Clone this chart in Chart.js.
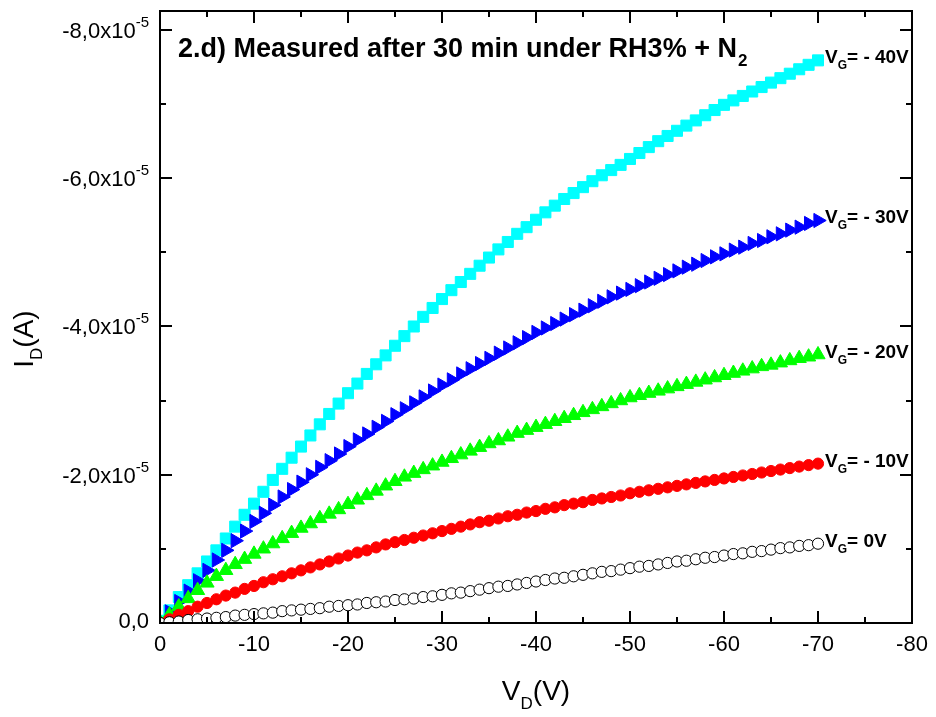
<!DOCTYPE html>
<html><head><meta charset="utf-8">
<script src="https://cdn.jsdelivr.net/npm/chart.js@4.4.0/dist/chart.umd.min.js"></script>
<style>html,body{margin:0;padding:0;background:#fff;}#c{display:block;}</style>
</head><body>
<canvas id="c" width="936" height="717"></canvas>
<script>
// ---- data ----
const drainVoltage = [0,-1,-2,-3,-4,-5,-6,-7,-8,-9,-10,-11,-12,-13,-14,-15,-16,-17,-18,-19,-20,-21,-22,-23,-24,-25,-26,-27,-28,-29,-30,-31,-32,-33,-34,-35,-36,-37,-38,-39,-40,-41,-42,-43,-44,-45,-46,-47,-48,-49,-50,-51,-52,-53,-54,-55,-56,-57,-58,-59,-60,-61,-62,-63,-64,-65,-66,-67,-68,-69,-70];
// drain current, in units of 1e-5 A
const iD_VG0 = [0,-0.01,-0.02,-0.04,-0.05,-0.06,-0.07,-0.08,-0.10,-0.11,-0.12,-0.13,-0.14,-0.16,-0.17,-0.18,-0.19,-0.20,-0.22,-0.23,-0.24,-0.25,-0.27,-0.28,-0.29,-0.31,-0.32,-0.33,-0.35,-0.36,-0.38,-0.40,-0.41,-0.43,-0.45,-0.47,-0.49,-0.50,-0.52,-0.54,-0.56,-0.58,-0.60,-0.61,-0.63,-0.65,-0.67,-0.69,-0.70,-0.72,-0.74,-0.76,-0.77,-0.79,-0.81,-0.83,-0.84,-0.86,-0.88,-0.89,-0.91,-0.93,-0.94,-0.96,-0.97,-0.99,-1.01,-1.02,-1.04,-1.05,-1.07];
const iD_VG10 = [0,-0.05,-0.11,-0.16,-0.22,-0.27,-0.32,-0.37,-0.41,-0.46,-0.50,-0.55,-0.59,-0.63,-0.67,-0.71,-0.75,-0.79,-0.83,-0.87,-0.91,-0.95,-0.98,-1.02,-1.06,-1.09,-1.12,-1.15,-1.18,-1.21,-1.24,-1.27,-1.30,-1.33,-1.36,-1.38,-1.41,-1.44,-1.46,-1.49,-1.51,-1.54,-1.56,-1.59,-1.61,-1.63,-1.66,-1.68,-1.70,-1.72,-1.75,-1.77,-1.79,-1.81,-1.83,-1.85,-1.87,-1.89,-1.91,-1.93,-1.95,-1.97,-1.99,-2.01,-2.03,-2.05,-2.07,-2.09,-2.11,-2.13,-2.15];
const iD_VG20 = [-0.01,-0.11,-0.22,-0.33,-0.44,-0.54,-0.63,-0.71,-0.79,-0.86,-0.93,-1.00,-1.07,-1.14,-1.21,-1.28,-1.34,-1.41,-1.47,-1.53,-1.60,-1.66,-1.72,-1.78,-1.85,-1.91,-1.97,-2.02,-2.07,-2.12,-2.17,-2.22,-2.27,-2.32,-2.37,-2.42,-2.46,-2.51,-2.56,-2.60,-2.64,-2.68,-2.72,-2.76,-2.80,-2.84,-2.88,-2.92,-2.96,-3.00,-3.04,-3.07,-3.10,-3.13,-3.16,-3.19,-3.22,-3.25,-3.28,-3.31,-3.34,-3.37,-3.40,-3.43,-3.46,-3.48,-3.51,-3.54,-3.57,-3.59,-3.62];
const iD_VG30 = [-0.02,-0.15,-0.29,-0.43,-0.57,-0.71,-0.85,-0.98,-1.11,-1.24,-1.37,-1.48,-1.59,-1.70,-1.80,-1.90,-2.00,-2.10,-2.19,-2.28,-2.38,-2.47,-2.55,-2.64,-2.72,-2.81,-2.89,-2.97,-3.05,-3.13,-3.21,-3.28,-3.36,-3.43,-3.50,-3.57,-3.64,-3.71,-3.78,-3.85,-3.92,-3.98,-4.04,-4.10,-4.16,-4.22,-4.28,-4.34,-4.40,-4.45,-4.50,-4.55,-4.60,-4.65,-4.70,-4.75,-4.80,-4.84,-4.89,-4.94,-4.98,-5.03,-5.07,-5.12,-5.16,-5.21,-5.25,-5.30,-5.34,-5.39,-5.43];
const iD_VG40 = [-0.03,-0.17,-0.35,-0.51,-0.67,-0.83,-0.98,-1.14,-1.30,-1.46,-1.61,-1.77,-1.93,-2.08,-2.23,-2.38,-2.53,-2.68,-2.82,-2.96,-3.10,-3.23,-3.36,-3.49,-3.61,-3.74,-3.87,-4.00,-4.13,-4.25,-4.37,-4.49,-4.60,-4.71,-4.82,-4.93,-5.04,-5.14,-5.25,-5.34,-5.44,-5.54,-5.63,-5.72,-5.80,-5.88,-5.96,-6.04,-6.11,-6.18,-6.26,-6.34,-6.42,-6.50,-6.57,-6.64,-6.71,-6.78,-6.85,-6.92,-6.99,-7.05,-7.11,-7.17,-7.23,-7.29,-7.35,-7.41,-7.47,-7.53,-7.59];
const CURRENT_UNIT = 1e-5;

const seriesGateLabels = ["0V", "- 10V", "- 20V", "- 30V", "- 40V"];

const xMajorTicks = [0,-10,-20,-30,-40,-50,-60,-70,-80];
const xMinorTicks = [-5,-15,-25,-35,-45,-55,-65,-75];
const xTickLabels = ["0","-10","-20","-30","-40","-50","-60","-70","-80"];
const yMajorTicks = [0,-2,-4,-6,-8];          // x 1e-5 A
const yMinorTicks = [-1,-3,-5,-7];
const yTickMantissa = ["0,0","-2,0x10","-4,0x10","-6,0x10","-8,0x10"];
const yTickExponent = ["","-5","-5","-5","-5"];

const panelTitle = "2.d) Measured after 30 min under RH3% + N";
const panelTitleSub = "2";

// ---- build ----
function pts(arr){ return drainVoltage.map((v,i)=>({x:v, y:arr[i]*CURRENT_UNIT})); }

const styles = [
  {series: iD_VG0,  style:'circle',   r:5.6, rot:0,  bg:'#ffffff', bc:'#000000', bw:1},
  {series: iD_VG10, style:'circle',   r:5.6, rot:0,  bg:'#ff0000', bc:'#ff0000', bw:1},
  {series: iD_VG20, style:'triangle', r:8.2, rot:0,  bg:'#00ff00', bc:'#00ff00', bw:1},
  {series: iD_VG30, style:'triangle', r:8.2, rot:90, bg:'#0000ff', bc:'#0000ff', bw:1},
  {series: iD_VG40, style:'rect',     r:7.8, rot:0,  bg:'#00ffff', bc:'#00ffff', bw:1}
];

const datasets = styles.map((s,i)=>({
  label: 'VG= ' + seriesGateLabels[i],
  data: pts(s.series),
  showLine: false,
  pointStyle: s.style,
  pointRadius: s.r,
  pointRotation: s.rot,
  pointBackgroundColor: s.bg,
  pointBorderColor: s.bc,
  pointBorderWidth: s.bw,
  pointHoverRadius: s.r
}));

const FONT = "'Liberation Sans', Arial, 'DejaVu Sans', sans-serif";

function drawParts(ctx, parts, x, y){
  let cx = x;
  for (const p of parts){
    ctx.font = p.font;
    ctx.fillText(p.t, cx, y + (p.dy||0));
    cx += ctx.measureText(p.t).width + (p.gap||0);
  }
  return cx;
}
function partsWidth(ctx, parts){
  let w = 0;
  for (const p of parts){ ctx.font = p.font; w += ctx.measureText(p.t).width + (p.gap||0); }
  return w;
}

const decorPlugin = {
  id: 'decor',
  afterDraw(chart){
    const ctx = chart.ctx, a = chart.chartArea;
    const xs = chart.scales.x, ys = chart.scales.y;
    ctx.save();
    ctx.strokeStyle = '#000'; ctx.fillStyle = '#000';
    ctx.lineWidth = 2;
    ctx.lineCap = 'butt';
    // frame
    ctx.strokeRect(a.left, a.top, a.right - a.left, a.bottom - a.top);
    // ticks (inward, on all four sides)
    const MAJ = 12, MIN = 6;
    ctx.beginPath();
    const xt = (v, len) => {
      const px = Math.round(xs.getPixelForValue(v));
      ctx.moveTo(px, a.bottom); ctx.lineTo(px, a.bottom - len);
      ctx.moveTo(px, a.top); ctx.lineTo(px, a.top + len);
    };
    const yt = (v, len) => {
      const py = Math.round(ys.getPixelForValue(v*CURRENT_UNIT));
      ctx.moveTo(a.left, py); ctx.lineTo(a.left + len, py);
      ctx.moveTo(a.right, py); ctx.lineTo(a.right - len, py);
    };
    xMajorTicks.forEach(v=>xt(v, MAJ));
    xMinorTicks.forEach(v=>xt(v, MIN));
    yMajorTicks.forEach(v=>yt(v, MAJ));
    yMinorTicks.forEach(v=>yt(v, MIN));
    ctx.stroke();

    ctx.textAlign = 'left'; ctx.textBaseline = 'alphabetic';

    // y tick labels with superscript exponent
    yMajorTicks.forEach((v, i) => {
      const py = ys.getPixelForValue(v*CURRENT_UNIT);
      const mant = yTickMantissa[i], ex = yTickExponent[i];
      ctx.font = "22px " + FONT;
      const mw = ctx.measureText(mant).width;
      ctx.font = "15px " + FONT;
      const ew = ex ? ctx.measureText(ex).width : 0;
      const right = a.left - 11;
      if (ex) {
        ctx.font = "22px " + FONT;
        ctx.fillText(mant, right - ew - mw, py + 8);
        ctx.font = "15px " + FONT;
        ctx.fillText(ex, right - ew, py - 3);
      } else {
        ctx.font = "22px " + FONT;
        ctx.fillText(mant, right - mw, py + 5);
      }
    });

    // panel title
    ctx.font = "bold 27px " + FONT;
    ctx.fillText(panelTitle, a.left + 18, a.top + 46, 576);
    const tw = Math.min(ctx.measureText(panelTitle).width, 576);
    ctx.font = "bold 17px " + FONT;
    ctx.fillText(panelTitleSub, a.left + 18 + tw + 1, a.top + 55);

    // series end labels
    datasets.forEach((ds, i) => {
      const last = ds.data[ds.data.length - 1];
      const px = xs.getPixelForValue(last.x) + 7;
      const py = ys.getPixelForValue(last.y) + 3;
      drawParts(ctx, [
        {t:'V', font:"bold 19px " + FONT},
        {t:'G', font:"bold 12px " + FONT, dy:6},
        {t:'= ' + seriesGateLabels[i], font:"bold 19px " + FONT}
      ], px, py);
    });

    // x axis title
    const xParts = [
      {t:'V', font:"28px " + FONT},
      {t:'D', font:"17px " + FONT, dy:9},
      {t:'(V)', font:"28px " + FONT}
    ];
    const xw = partsWidth(ctx, xParts);
    drawParts(ctx, xParts, (a.left + a.right)/2 - xw/2, 700);

    // y axis title (rotated)
    const yParts = [
      {t:'I', font:"28px " + FONT},
      {t:'D', font:"17px " + FONT, dy:9},
      {t:'(A)', font:"28px " + FONT}
    ];
    const yw = partsWidth(ctx, yParts);
    ctx.translate(33, 339 + yw/2);
    ctx.rotate(-Math.PI/2);
    drawParts(ctx, yParts, 0, 0);
    ctx.restore();
  }
};

new Chart(document.getElementById('c'), {
  type: 'scatter',
  data: { datasets },
  options: {
    responsive: false,
    animation: false,
    events: [],
    layout: { padding: { top: 11, right: 24, left: 0, bottom: 0 } },
    plugins: { legend: { display: false }, tooltip: { enabled: false }, title: { display: false } },
    scales: {
      x: {
        type: 'linear', min: -80, max: 0, reverse: true,
        grid: { display: false, drawTicks: false },
        border: { display: false },
        afterBuildTicks: s => { s.ticks = xMajorTicks.map(v => ({ value: v })); },
        afterFit: s => { s.height = 94; s.paddingLeft = 0; s.paddingRight = 0; },
        ticks: {
          autoSkip: false, maxRotation: 0, padding: 9,
          color: '#000', font: { family: FONT, size: 22 },
          callback: (v, i) => xTickLabels[i]
        }
      },
      y: {
        type: 'linear', min: -8.256e-5, max: 0, reverse: true,
        grid: { display: false, drawTicks: false },
        border: { display: false },
        afterBuildTicks: s => { s.ticks = yMajorTicks.map(v => ({ value: v * CURRENT_UNIT })); },
        afterFit: s => { s.width = 160; s.paddingTop = 0; s.paddingBottom = 0; },
        ticks: { display: false }
      }
    }
  },
  plugins: [decorPlugin]
});
</script>
</body></html>
